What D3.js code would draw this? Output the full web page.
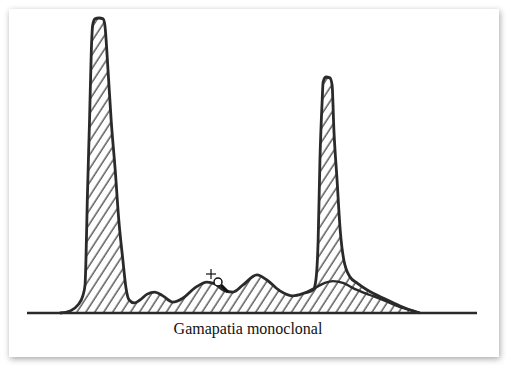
<!DOCTYPE html>
<html>
<head>
<meta charset="utf-8">
<script src="https://cdn.jsdelivr.net/npm/d3@7/dist/d3.min.js"></script>
<style>
  html, body { margin: 0; padding: 0; background: #fff; }
  svg { display: block; }
</style>
</head>
<body>
<script>

var w = 507, h = 366;

// electrophoretic mobility (0-100) and relative density (% of albumin peak)
var mobility = [7.3, 9.6, 11.3, 12.4, 12.9, 13.1, 13.4, 13.9, 14.3, 14.6,
  15.1, 16.0, 16.9, 17.3, 18.0, 18.7, 19.6, 20.4, 21.3, 22.0,
  22.7, 23.8, 25.1, 26.7, 28.4, 30.2, 32.4, 34.7, 37.3, 40.0,
  41.8, 44.0, 45.8, 48.0, 51.1, 53.3, 56.2, 59.1, 61.8, 63.6,
  64.2, 64.7, 65.1, 65.6, 65.8, 66.4, 67.3, 67.8, 68.2, 68.9,
  69.6, 70.4, 71.8, 73.3, 75.6, 79.6, 82.9, 85.8, 87.3];
var density = [0, 0.7, 2.7, 5.8, 9.5, 18.0, 38.3, 65.4, 89.2, 97.6,
  99.7, 100, 99.7, 97.6, 82.4, 65.4, 48.5, 31.5, 18.0, 8.5,
  4.4, 3.4, 4.4, 6.4, 7.1, 5.8, 3.7, 5.1, 8.5, 10.5,
  9.8, 7.5, 7.1, 9.5, 12.9, 11.2, 7.5, 5.8, 6.8, 7.8,
  11.2, 24.7, 51.9, 72.2, 78.3, 80.0, 79.7, 77.3, 62.0, 45.1,
  28.1, 18.0, 12.2, 10.2, 7.8, 4.7, 2.4, 0.7, 0];

// polyclonal gamma band drawn under the monoclonal spike
var gammaMobility = [61.8, 64.0, 66.2, 68.0, 70.2, 72.9, 76.2, 79.6, 82.9, 85.8, 87.3];
var gammaDensity  = [6.8, 8.5, 10.2, 10.8, 10.2, 8.1, 6.1, 4.1, 2.0, 0.7, 0];

var title = "Gamapatia monoclonal";

var curve = mobility.map(function(m, i){ return {x: m, y: density[i]}; });
var gamma = gammaMobility.map(function(m, i){ return {x: m, y: gammaDensity[i]}; });

var x = d3.scaleLinear().domain([0, 100]).range([27, 477]);
var y = d3.scaleLinear().domain([0, 100]).range([313, 18]);

var svg = d3.select("body").append("svg").attr("width", w).attr("height", h);

var defs = svg.append("defs");

var shadow = defs.append("filter").attr("id", "shadow")
  .attr("x", "-5%").attr("y", "-5%").attr("width", "110%").attr("height", "110%");
shadow.append("feDropShadow")
  .attr("dx", 1).attr("dy", 2).attr("stdDeviation", 3)
  .attr("flood-color", "#000").attr("flood-opacity", 0.35);

var hatch = defs.append("pattern").attr("id", "hatch")
  .attr("patternUnits", "userSpaceOnUse")
  .attr("width", 7.5).attr("height", 20)
  .attr("patternTransform", "rotate(33)");
hatch.append("line")
  .attr("x1", 2).attr("y1", 0).attr("x2", 2).attr("y2", 20)
  .attr("stroke", "#222").attr("stroke-width", 1.1);

// framed panel
svg.append("rect")
  .attr("x", 9).attr("y", 9).attr("width", 490).attr("height", 348)
  .attr("fill", "#fff").attr("filter", "url(#shadow)");

var area = d3.area()
  .x(function(d){ return x(d.x); })
  .y0(y(0))
  .y1(function(d){ return y(d.y); })
  .curve(d3.curveMonotoneX);

var line = d3.line()
  .x(function(d){ return x(d.x); })
  .y(function(d){ return y(d.y); })
  .curve(d3.curveMonotoneX);

svg.append("path").datum(curve)
  .attr("d", area)
  .attr("fill", "url(#hatch)");

svg.append("path").datum(gamma)
  .attr("d", line)
  .attr("fill", "none").attr("stroke", "#2a2a2a").attr("stroke-width", 2.4);

svg.append("path").datum(curve)
  .attr("d", line)
  .attr("fill", "none").attr("stroke", "#2a2a2a").attr("stroke-width", 2.8)
  .attr("stroke-linejoin", "round");

// baseline
svg.append("line")
  .attr("x1", x(0)).attr("x2", x(100))
  .attr("y1", y(0)).attr("y2", y(0))
  .attr("stroke", "#2a2a2a").attr("stroke-width", 2.4);

// mouse cursor left in the screenshot
var cur = svg.append("g").attr("stroke", "#111").attr("fill", "none");
cur.append("line").attr("x1", 206).attr("x2", 216).attr("y1", 274).attr("y2", 274).attr("stroke-width", 1.2);
cur.append("line").attr("x1", 211).attr("x2", 211).attr("y1", 269).attr("y2", 279).attr("stroke-width", 1.2);
cur.append("circle").attr("cx", 218).attr("cy", 282).attr("r", 4).attr("fill", "#fff").attr("stroke-width", 1.5);
cur.append("line").attr("x1", 221).attr("y1", 285).attr("x2", 228).attr("y2", 292).attr("stroke-width", 3);

svg.append("text")
  .attr("x", 248).attr("y", 334)
  .attr("text-anchor", "middle")
  .attr("font-family", "'Liberation Serif', 'Times New Roman', serif")
  .attr("font-size", "16px")
  .attr("fill", "#111")
  .text(title);

</script>
</body>
</html>
